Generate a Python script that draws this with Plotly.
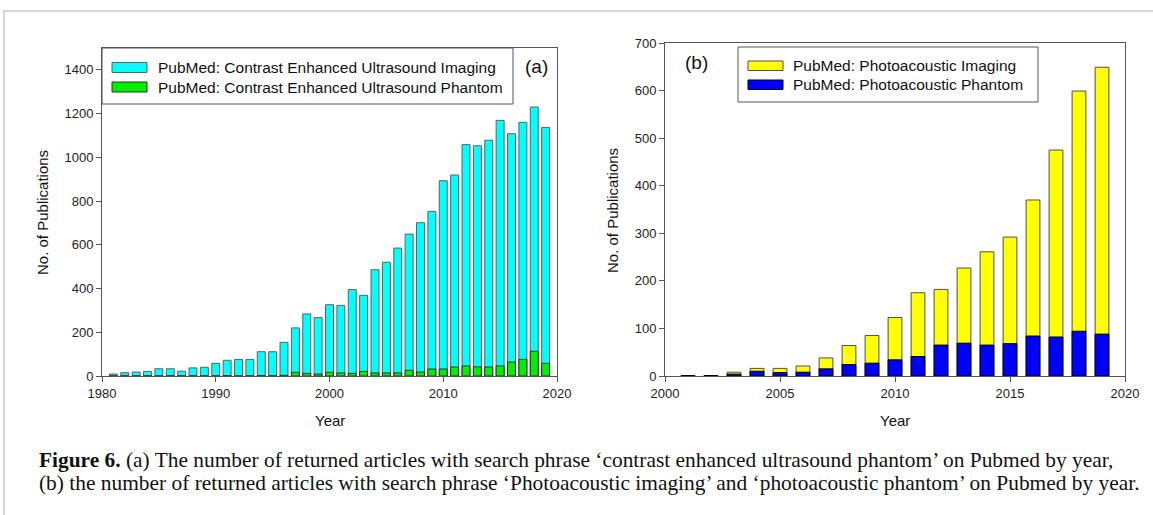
import plotly.graph_objects as go

# ---- data -------------------------------------------------------------
years_a = list(range(1981, 2020))
ceus_imaging = [9, 15, 18, 21, 33, 33, 22, 37, 40, 58,
                72, 76, 76, 111, 111, 154, 220, 284, 267, 326,
                323, 395, 369, 486, 520, 585, 649, 701, 753, 893,
                919, 1058, 1053, 1078, 1169, 1108, 1160, 1230, 1137]
ceus_phantom = [0, 0, 0, 0, 0, 0, 0, 0, 0, 0,
                2, 0, 0, 2, 0, 3, 17, 12, 9, 17,
                14, 12, 21, 14, 14, 14, 26, 18, 32, 32,
                41, 46, 42, 41, 46, 64, 76, 113, 58]

years_b = list(range(2001, 2020))
pa_imaging = [1, 1, 8, 16, 16, 21, 38, 64, 85, 123,
              175, 182, 227, 261, 292, 370, 475, 599, 649]
pa_phantom = [1, 1, 4, 10, 7, 8, 15, 24, 27, 34,
              41, 65, 69, 65, 68, 84, 82, 94, 88]

ticks_a = [0, 200, 400, 600, 800, 1000, 1200, 1400]
ticks_b = [0, 100, 200, 300, 400, 500, 600, 700]

legend_a = ["PubMed: Contrast Enhanced Ultrasound Imaging",
            "PubMed: Contrast Enhanced Ultrasound Phantom"]
legend_b = ["PubMed: Photoacoustic Imaging",
            "PubMed: Photoacoustic Phantom"]

caption_1 = ("<b>Figure 6.</b> (a) The number of returned articles with search phrase "
             "\u2018contrast enhanced ultrasound phantom\u2019 on Pubmed by year,")
caption_2 = ("(b) the number of returned articles with search phrase "
             "\u2018Photoacoustic imaging\u2019 and \u2018photoacoustic phantom\u2019 on Pubmed by year.")

# ---- layout helpers ----------------------------------------------------
W, H = 1153, 515
SANS = "Liberation Sans, Arial, sans-serif"
SERIF = "Liberation Serif, Times New Roman, serif"
AXIS = "#555555"


def px(x):
    return x / W


def py(y):
    return 1 - y / H


fig = go.Figure()

fig.add_trace(go.Bar(x=years_a, y=ceus_imaging, width=0.7, marker_color="#00FFFF",
                     marker_line=dict(color="#606060", width=1),
                     xaxis="x", yaxis="y", name=legend_a[0], showlegend=False))
fig.add_trace(go.Bar(x=years_a, y=ceus_phantom, width=0.7, marker_color="#00F000",
                     marker_line=dict(color="#303030", width=1),
                     xaxis="x", yaxis="y", name=legend_a[1], showlegend=False))
fig.add_trace(go.Bar(x=years_b, y=pa_imaging, width=0.6, marker_color="#FFFF00",
                     marker_line=dict(color="#505050", width=1),
                     xaxis="x2", yaxis="y2", name=legend_b[0], showlegend=False))
fig.add_trace(go.Bar(x=years_b, y=pa_phantom, width=0.6, marker_color="#0000FF",
                     marker_line=dict(color="#000000", width=1),
                     xaxis="x2", yaxis="y2", name=legend_b[1], showlegend=False))

axis_common = dict(showline=True, linecolor=AXIS, linewidth=1, mirror=True,
                   showgrid=False, zeroline=False, ticks="outside", ticklen=5,
                   tickcolor=AXIS, automargin=False,
                   tickfont=dict(family=SANS, size=13, color="#222"))

fig.update_layout(
    template="none",
    width=W, height=H, margin=dict(l=0, r=0, t=0, b=0, autoexpand=False),
    paper_bgcolor="white", plot_bgcolor="white", barmode="overlay",
    xaxis=dict(domain=[px(102), px(557)], range=[1980, 2020],
               tickvals=[1980, 1990, 2000, 2010, 2020], anchor="y", **axis_common),
    yaxis=dict(domain=[py(376), py(48)], range=[0, 1500],
               tickvals=ticks_a, anchor="x", **axis_common),
    xaxis2=dict(domain=[px(665), px(1125)], range=[2000, 2020],
                tickvals=[2000, 2005, 2010, 2015, 2020], anchor="y2", **axis_common),
    yaxis2=dict(domain=[py(376), py(43)], range=[0, 700],
                tickvals=ticks_b, anchor="x2", **axis_common),
)

shapes = []
annotations = []

# outer figure frame (top and left edges visible)
shapes.append(dict(type="rect", xref="paper", yref="paper",
                   x0=px(4), x1=px(W + 10), y0=py(11), y1=py(H + 10),
                   line=dict(color="#c8c8c8", width=1.5)))


def legend_block(box, sw_x, rows, labels, colors, lines, text_x):
    x0, y0, x1, y1 = box
    shapes.append(dict(type="rect", xref="paper", yref="paper",
                       x0=px(x0), x1=px(x1), y0=py(y1), y1=py(y0),
                       line=dict(color=AXIS, width=1), fillcolor="white"))
    for (ya, yb), lab, col, lc in zip(rows, labels, colors, lines):
        shapes.append(dict(type="rect", xref="paper", yref="paper",
                           x0=px(sw_x[0]), x1=px(sw_x[1]), y0=py(yb), y1=py(ya),
                           line=dict(color=lc, width=1), fillcolor=col))
        annotations.append(dict(text=lab, xref="paper", yref="paper",
                                x=px(text_x), y=py((ya + yb) / 2),
                                xanchor="left", yanchor="middle", showarrow=False,
                                font=dict(family=SANS, size=15.5, color="#111")))


legend_block((102, 48, 513, 104), (112, 147), [(62.5, 72.5), (82, 92)],
             legend_a, ["#00FFFF", "#00F000"], ["#606060", "#303030"], 156)
legend_block((738, 47, 1038, 102), (748, 783), [(61, 70.5), (80, 89.5)],
             legend_b, ["#FFFF00", "#0000FF"], ["#505050", "#000000"], 791)

# panel labels
annotations.append(dict(text="(a)", xref="paper", yref="paper", x=px(536), y=py(66),
                        xanchor="center", yanchor="middle", showarrow=False,
                        font=dict(family=SANS, size=19, color="#111")))
annotations.append(dict(text="(b)", xref="paper", yref="paper", x=px(696), y=py(62),
                        xanchor="center", yanchor="middle", showarrow=False,
                        font=dict(family=SANS, size=19, color="#111")))

# axis titles
for x, y, t, ang in [(42, 212, "No. of Publications", -90),
                     (612, 211, "No. of Publications", -90),
                     (330, 420, "Year", 0), (895, 420, "Year", 0)]:
    annotations.append(dict(text=t, xref="paper", yref="paper", x=px(x), y=py(y),
                            xanchor="center", yanchor="middle", showarrow=False,
                            textangle=ang,
                            font=dict(family=SANS, size=15, color="#111")))

# caption
for y, t in [(460, caption_1), (483, caption_2)]:
    annotations.append(dict(text=t, xref="paper", yref="paper", x=px(37), y=py(y),
                            xanchor="left", yanchor="middle", showarrow=False,
                            font=dict(family=SERIF, size=21.4, color="#111")))

fig.update_layout(shapes=shapes, annotations=annotations)
fig.write_html("out.html")
